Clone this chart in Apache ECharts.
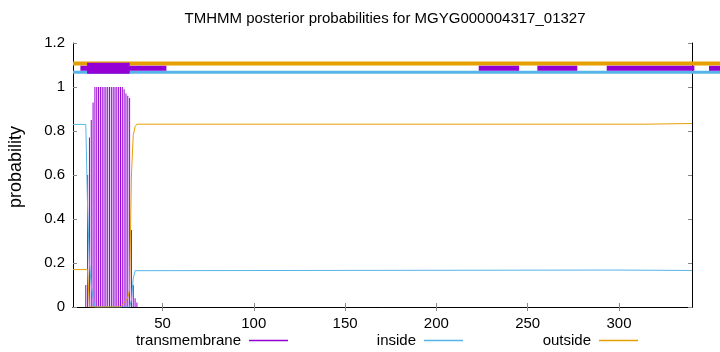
<!DOCTYPE html>
<html><head><meta charset="utf-8">
<script src="https://cdn.jsdelivr.net/npm/echarts@6/dist/echarts.min.js"></script>
<style>html,body{margin:0;padding:0;background:#fff}#c{width:720px;height:352px}</style>
</head><body><div id="c"></div>
<script>
const titleText = 'TMHMM posterior probabilities for MGYG000004317_01327';
const yAxisName = 'probability';
const xTicks = [50, 100, 150, 200, 250, 300];
const legendNames = ['transmembrane', 'inside', 'outside'];

// transmembrane posterior (impulses at residue positions)
const tmResidues = [8, 9, 10, 11, 12, 13, 14, 15, 16, 17, 18, 19, 20, 21, 22, 23, 24, 25, 26, 27, 28, 29, 30, 31, 32, 33, 34, 35, 36];
const tmValues =   [0.1, 0.6, 0.77, 0.85, 0.93, 1, 1, 1, 1, 1, 1, 1, 1, 1, 1, 1, 1, 1, 1, 1, 1, 0.99, 0.97, 0.96, 0.95, 0.35, 0.1, 0.04, 0.02];

// inside / outside posterior curves (breakpoints, residue -> probability)
const insideX = [1, 8, 9, 10, 11, 12, 13, 32, 33, 34, 35, 36, 297, 298, 340];
const insideY = [0.83, 0.83, 0.45, 0.2, 0.1, 0.04, 0, 0, 0.03, 0.13, 0.165, 0.168, 0.168, 0.166, 0.166];
const outsideX = [1, 9, 10, 27, 28, 29, 30, 31, 32, 33, 34, 35, 36, 314, 315, 340];
const outsideY = [0.17, 0.17, 0, 0, 0.01, 0.02, 0.03, 0.04, 0.08, 0.6, 0.78, 0.82, 0.831, 0.831, 0.834, 0.834];

// predicted topology strips above the curves: [start, end]
const topOutsideSegs = [[1, 360]];
const topInsideSegs = [[1, 360]];
const topTmThinSegs = [[5.05, 52.15], [223.2, 245.3], [255.3, 277.2], [293.3, 341.3], [349.3, 360]];
const topTmThickSegs = [[8.7, 32.05]];
const topOutsideLevel = 1.107;
const topTmLevel = 1.085;
const topInsideLevel = 1.067;

const FONT = 'Liberation Sans';
const cTM = '#9400d3', cIn = '#56b4e9', cOut = '#e69f00';

function strip(segs, level) { return segs.map(s => [s[0], s[1], level]); }
function stripRenderer(thick, color) {
  return function (params, api) {
    const p0 = api.coord([api.value(0), api.value(2)]);
    const p1 = api.coord([api.value(1), api.value(2)]);
    return { type: 'rect', shape: { x: p0[0], y: p0[1] - thick / 2, width: p1[0] - p0[0], height: thick }, style: { fill: color } };
  };
}
function stripSeries(segs, level, thick, color, z) {
  return { type: 'custom', name: 'strip' + z, data: strip(segs, level), encode: { x: [0, 1], y: 2 },
    renderItem: stripRenderer(thick, color), clip: false, silent: true, z: z };
}

const tickStyle = { show: true, inside: true, length: 4, lineStyle: { color: '#888', width: 1 } };
const axisLineStyle = { show: true, lineStyle: { color: '#000', width: 1 } };

const chart = echarts.init(document.getElementById('c'), null, { renderer: 'canvas' });
chart.setOption({
  animation: false,
  backgroundColor: '#fff',
  title: { text: titleText, left: 385, top: 11, textAlign: 'center', padding: 0,
    textStyle: { fontFamily: FONT, fontSize: 15, fontWeight: 'normal', color: '#000' } },
  grid: { left: 73, right: 28, top: 43, bottom: 45, containLabel: false, outerBoundsMode: 'none' },
  legend: legendNames.map((n, i) => ({
    data: [{ name: n, icon: 'rect' }],
    right: [432, 257, 82][i], top: 333, align: 'right', padding: 0,
    itemWidth: 39, itemHeight: 1.5,
    textStyle: { fontFamily: FONT, fontSize: 15, color: '#000', padding: [0, 3, 0, 0] },
    selectedMode: false
  })),
  xAxis: [
    { type: 'value', min: 1, max: 340, position: 'bottom', axisLine: axisLineStyle,
      axisTick: Object.assign({ customValues: xTicks }, tickStyle),
      axisLabel: { customValues: xTicks, margin: 9, fontFamily: FONT, fontSize: 15, color: '#000' },
      splitLine: { show: false } },
    { type: 'value', min: 1, max: 340, position: 'top', axisLine: axisLineStyle,
      axisTick: Object.assign({ customValues: xTicks }, tickStyle),
      axisLabel: { show: false }, splitLine: { show: false } }
  ],
  yAxis: [
    { type: 'value', min: 0, max: 1.2, interval: 0.2, position: 'left', axisLine: axisLineStyle,
      axisTick: tickStyle,
      axisLabel: { margin: 8, fontFamily: FONT, fontSize: 15, color: '#000' },
      splitLine: { show: false } },
    { type: 'value', min: 0, max: 1.2, interval: 0.2, position: 'right', axisLine: axisLineStyle,
      axisTick: tickStyle, axisLabel: { show: false }, splitLine: { show: false } }
  ],
  graphic: [{ type: 'text', x: 16, y: 167, rotation: Math.PI / 2,
    style: { text: yAxisName, fontFamily: FONT, fontSize: 18, fill: '#000', align: 'center', verticalAlign: 'middle' } }],
  series: [
    { type: 'bar', name: 'transmembrane', data: tmResidues.map((r, i) => [r, tmValues[i]]),
      barWidth: 1, itemStyle: { color: cTM }, z: 2, silent: true },
    { type: 'line', name: 'inside', data: insideX.map((x, i) => [x, insideY[i]]),
      symbol: 'none', lineStyle: { color: cIn, width: 1 }, itemStyle: { color: cIn }, z: 3, silent: true },
    { type: 'line', name: 'outside', data: outsideX.map((x, i) => [x, outsideY[i]]),
      symbol: 'none', lineStyle: { color: cOut, width: 1 }, itemStyle: { color: cOut }, z: 4, silent: true },
    stripSeries(topOutsideSegs, topOutsideLevel, 4, cOut, 5),
    stripSeries(topInsideSegs, topInsideLevel, 3, cIn, 6),
    stripSeries(topTmThinSegs, topTmLevel, 5, cTM, 7),
    stripSeries(topTmThickSegs, topTmLevel, 11, cTM, 8)
  ]
});
</script></body></html>
